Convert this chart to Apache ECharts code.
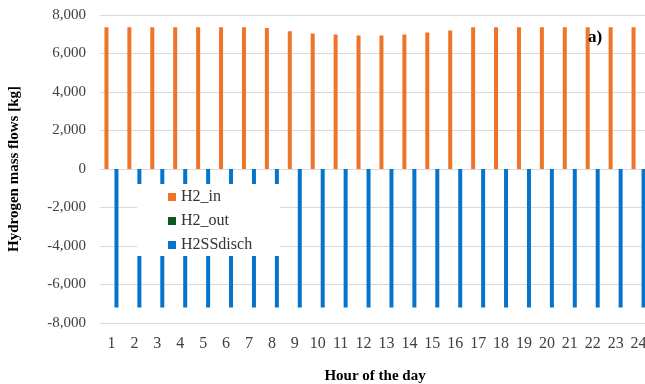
<!DOCTYPE html>
<html>
<head>
<meta charset="utf-8">
<script src="https://cdn.jsdelivr.net/npm/echarts@6/dist/echarts.min.js"></script>
<style>
  html, body { margin: 0; padding: 0; background: #fff; }
  #main { width: 645px; height: 384px; }
</style>
</head>
<body>
<div id="main"></div>
<script>
// hours of the day
let hours = ['1', '2', '3', '4', '5', '6', '7', '8', '9', '10', '11', '12',
  '13', '14', '15', '16', '17', '18', '19', '20', '21', '22', '23', '24'];
// hydrogen mass flows [kg]
let h2In = [7360, 7360, 7360, 7360, 7360, 7360, 7360, 7325, 7160, 7040, 6985, 6930,
  6930, 6985, 7085, 7190, 7360, 7360, 7360, 7360, 7360, 7360, 7360, 7360];
let h2Out = [0, 0, 0, 0, 0, 0, 0, 0, 0, 0, 0, 0,
  0, 0, 0, 0, 0, 0, 0, 0, 0, 0, 0, 0];
let h2SSdisch = [-7200, -7200, -7200, -7200, -7200, -7200, -7200, -7200, -7200, -7200, -7200, -7200,
  -7200, -7200, -7200, -7200, -7200, -7200, -7200, -7200, -7200, -7200, -7200, -7200];

let FONT = "'Liberation Serif', 'Times New Roman', serif";

let chart = echarts.init(document.getElementById('main'));
let option = {
  animation: false,
  backgroundColor: '#fff',
  grid: {
    left: 100,
    top: 15,
    width: 550,
    height: 308,
    outerBoundsMode: 'none',
    containLabel: false
  },
  legend: {
    orient: 'vertical',
    left: 137,
    top: 184,
    backgroundColor: '#fff',
    padding: [5, 28, 3, 31],
    itemGap: 8,
    itemWidth: 8,
    itemHeight: 8,
    icon: 'rect',
    textStyle: {
      fontFamily: FONT,
      fontSize: 16,
      lineHeight: 16,
      color: '#333'
    },
    data: ['H2_in', 'H2_out', 'H2SSdisch']
  },
  xAxis: {
    type: 'category',
    data: hours,
    name: 'Hour of the day',
    nameLocation: 'middle',
    nameGap: 46,
    nameTextStyle: {
      fontFamily: FONT,
      fontSize: 15,
      fontWeight: 'bold',
      color: '#000'
    },
    axisLine: { show: false },
    axisTick: { show: false },
    axisLabel: {
      margin: 13,
      fontFamily: FONT,
      fontSize: 16,
      color: '#404040'
    }
  },
  yAxis: {
    type: 'value',
    min: -8000,
    max: 8000,
    interval: 2000,
    name: 'Hydrogen mass flows [kg]',
    nameLocation: 'middle',
    nameGap: 78,
    nameTextStyle: {
      fontFamily: FONT,
      fontSize: 15,
      fontWeight: 'bold',
      color: '#000'
    },
    axisLine: { show: false },
    axisTick: { show: false },
    axisLabel: {
      margin: 14,
      fontFamily: FONT,
      fontSize: 15,
      color: '#404040',
      formatter: function (v) {
        return v.toLocaleString('en-US');
      }
    },
    splitLine: {
      lineStyle: { color: '#d9d9d9', width: 1 }
    }
  },
  series: [
    {
      name: 'H2_in',
      type: 'bar',
      data: h2In,
      barWidth: 4,
      barGap: '25%',
      itemStyle: { color: '#EE7429' }
    },
    {
      name: 'H2_out',
      type: 'bar',
      data: h2Out,
      barWidth: 4,
      barGap: '25%',
      itemStyle: { color: '#0B5B1F' }
    },
    {
      name: 'H2SSdisch',
      type: 'bar',
      data: h2SSdisch,
      barWidth: 4,
      barGap: '25%',
      itemStyle: { color: '#0474CC' }
    }
  ],
  graphic: [
    {
      type: 'text',
      left: 588,
      top: 29,
      z: 10,
      style: {
        text: 'a)',
        fontFamily: FONT,
        fontSize: 17,
        fontWeight: 'bold',
        fill: '#000'
      }
    }
  ]
};
chart.setOption(option);
</script>
</body>
</html>
